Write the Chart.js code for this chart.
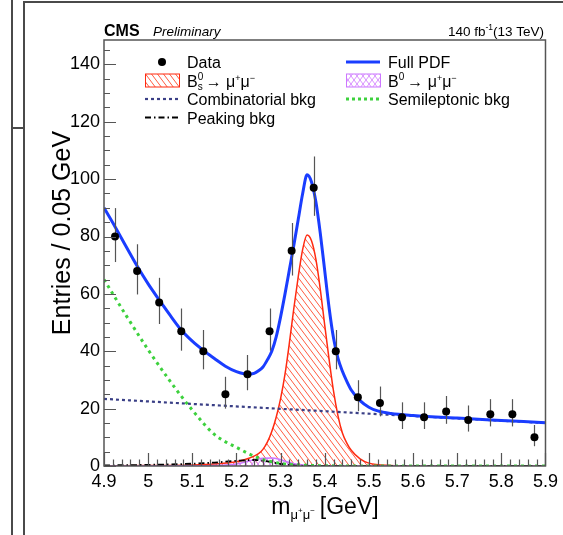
<!DOCTYPE html>
<html>
<head>
<meta charset="utf-8">
<script src="https://cdn.jsdelivr.net/npm/chart.js@4.4.0/dist/chart.umd.min.js"></script>
<style>
  html, body { margin: 0; padding: 0; background: #fff; }
  #wrap { position: relative; width: 563px; height: 535px; overflow: hidden; }
  #wrap canvas { position: absolute; left: 0; top: 0; }
  .ln { position: absolute; background: #4a4a4a; }
</style>
</head>
<body>
<div id="wrap">
  <div class="ln" style="left:11px;top:0;width:2px;height:535px"></div>
  <div class="ln" style="left:23px;top:1px;width:2px;height:534px"></div>
  <div class="ln" style="left:23px;top:1px;width:540px;height:2px"></div>
  <div class="ln" style="left:11px;top:127px;width:13px;height:2px"></div>
  <canvas id="massChart" width="563" height="535"></canvas>
</div>
<script>
// data points (bin centres, 0.05 GeV bins)
const binCenters = [4.925, 4.975, 5.025, 5.075, 5.125, 5.175, 5.225, 5.275, 5.325, 5.375,
                    5.425, 5.475, 5.525, 5.575, 5.625, 5.675, 5.725, 5.775, 5.825, 5.875];
const counts  = [80, 68, 57, 47, 40, 25, 32, 47, 75, 97, 40, 24, 22, 17, 17, 19, 16, 18, 18, 10];
const errUp   = [9.9, 9.3, 8.6, 7.9, 7.4, 6.1, 6.7, 7.9, 9.7, 10.9, 7.4, 5.9, 5.7, 5.2, 5.2, 5.4, 5.1, 5.3, 5.3, 4.3];
const errDown = [8.9, 8.2, 7.5, 6.8, 6.3, 5.0, 5.6, 6.8, 8.6, 9.8, 6.3, 4.9, 4.7, 4.1, 4.1, 4.3, 4.0, 4.2, 4.2, 3.1];

// full PDF
const pdfMass = [4.9, 4.925, 4.95, 4.975, 5.0, 5.025, 5.05, 5.075, 5.1, 5.125, 5.15, 5.175, 5.2, 5.225, 5.24,
                 5.25, 5.26, 5.27, 5.28, 5.29, 5.3, 5.31, 5.32, 5.33, 5.34, 5.35, 5.36, 5.37, 5.38, 5.39,
                 5.4, 5.41, 5.42, 5.43, 5.44, 5.45, 5.46, 5.48, 5.5, 5.52, 5.55, 5.6, 5.7, 5.8, 5.9];
const pdfVal  = [90, 83.4, 76.5, 69.7, 63.5, 57.9, 52.5, 47.4, 43.5, 40.3, 37.5, 34.8, 32.9, 32.0, 32.3,
                 33.2, 34.5, 37, 40, 45, 52, 60, 68.5, 77, 86, 95, 101.5, 99, 92, 81,
                 68, 55, 44.5, 37.5, 33, 29.5, 26.5, 22.8, 20.5, 19.2, 18.3, 17.6, 16.7, 15.9, 15.1];

// Bs -> mu mu signal
const bsMass = [4.9, 5.0, 5.1, 5.15, 5.2, 5.23, 5.25, 5.26, 5.27, 5.28, 5.29, 5.3, 5.31, 5.32, 5.33, 5.34, 5.35,
                5.36, 5.37, 5.38, 5.39, 5.4, 5.41, 5.42, 5.43, 5.44, 5.45, 5.46, 5.48, 5.5, 5.55, 5.6, 5.9];
const bsVal  = [0.1, 0.15, 0.35, 0.7, 1.5, 2.8, 4.3, 5.8, 8.3, 12, 17, 23.5, 32, 43, 55, 66, 75.5,
                80.5, 78.5, 72, 61.5, 49, 37, 26, 17.5, 11.5, 8, 5.5, 2.5, 1, 0.2, 0.05, 0];

// B0 -> mu mu
const b0Mass = [4.9, 5.1, 5.15, 5.2, 5.22, 5.24, 5.26, 5.28, 5.3, 5.32, 5.34, 5.37, 5.4, 5.9];
const b0Val  = [0, 0.05, 0.15, 0.7, 1.4, 2.2, 2.7, 2.8, 2.2, 1.2, 0.5, 0.1, 0, 0];

// combinatorial background
const combMass = [4.9, 5.15, 5.4, 5.65, 5.9];
const combVal  = [23.4, 21.2, 19.1, 17.0, 15.0];

// semileptonic background
const semiMass = [4.9, 4.95, 5.0, 5.05, 5.1, 5.15, 5.2, 5.25, 5.3, 5.35, 5.4, 5.45, 5.9];
const semiVal  = [65, 52.5, 40.5, 29.5, 19.5, 11, 6.5, 2.8, 0.9, 0.3, 0.1, 0, 0];

// peaking background
const peakMass = [4.9, 5.0, 5.1, 5.15, 5.2, 5.24, 5.27, 5.3, 5.33, 5.36, 5.4, 5.9];
const peakVal  = [0.2, 0.4, 0.8, 1.2, 1.8, 2.1, 1.6, 0.7, 0.2, 0.05, 0, 0];

const FONT = '"Liberation Sans", Arial, Helvetica, sans-serif';
const RED = '#ff2a10';
const BLUE = '#1a3dff';
const VIOLET = '#cc77ff';
const GREEN = '#3dd13d';
const NAVY = '#3a3f86';

const pts = (xs, ys) => xs.map((x, i) => ({ x: x, y: ys[i] }));

function hatch(color, cross) {
    const c = document.createElement('canvas');
    c.width = 6; c.height = 8;
    const g = c.getContext('2d');
    g.strokeStyle = color;
    g.lineWidth = 1;
    g.beginPath();
    g.moveTo(-6, 0); g.lineTo(0, 8);
    g.moveTo(0, 0); g.lineTo(6, 8);
    g.moveTo(6, 0); g.lineTo(12, 8);
    if (cross) {
        g.moveTo(0, 0); g.lineTo(-6, 8);
        g.moveTo(6, 0); g.lineTo(0, 8);
        g.moveTo(12, 0); g.lineTo(6, 8);
    }
    g.stroke();
    return g.createPattern(c, 'repeat');
}
const redHatch = hatch('#ff5a40', false);
const violetHatch = hatch('#d890ff', true);

function curve(label, xs, ys, color, width, dash, fill) {
    return {
        label: label,
        data: pts(xs, ys),
        borderColor: color,
        borderWidth: width,
        borderDash: dash || [],
        backgroundColor: fill || 'transparent',
        fill: fill ? 'origin' : false,
        pointRadius: 0,
        cubicInterpolationMode: 'monotone'
    };
}

// draw a run of text pieces: {t, size, dy, bold, italic, noAdvance}
function rich(ctx, x, y, parts) {
    let cx = x;
    parts.forEach(p => {
        ctx.font = (p.italic ? 'italic ' : '') + (p.bold ? 'bold ' : '') + p.size + 'px ' + FONT;
        ctx.fillText(p.t, cx, y + (p.dy || 0));
        if (!p.noAdvance) cx += ctx.measureText(p.t).width + (p.gap || 0);
    });
    return cx;
}
function richWidth(ctx, parts) {
    let w = 0;
    parts.forEach(p => {
        ctx.font = (p.italic ? 'italic ' : '') + (p.bold ? 'bold ' : '') + p.size + 'px ' + FONT;
        if (!p.noAdvance) w += ctx.measureText(p.t).width + (p.gap || 0);
    });
    return w;
}

const errorBars = {
    id: 'errorBars',
    beforeDatasetDraw(chart, args) {
        if (args.index !== 0) return;
        const ctx = chart.ctx, xs = chart.scales.x, ys = chart.scales.y;
        ctx.save();
        ctx.strokeStyle = '#555';
        ctx.lineWidth = 1.2;
        binCenters.forEach((m, i) => {
            const px = Math.round(xs.getPixelForValue(m)) + 0.5;
            ctx.beginPath();
            ctx.moveTo(px, ys.getPixelForValue(counts[i] + errUp[i]));
            ctx.lineTo(px, ys.getPixelForValue(counts[i] - errDown[i]));
            ctx.stroke();
        });
        ctx.restore();
    }
};

const frameAndText = {
    id: 'frameAndText',
    afterDraw(chart) {
        const ctx = chart.ctx, a = chart.chartArea;
        const xs = chart.scales.x, ys = chart.scales.y;
        ctx.save();
        // frame
        ctx.strokeStyle = '#555';
        ctx.lineWidth = 1.5;
        ctx.strokeRect(a.left, a.top, a.right - a.left, a.bottom - a.top);
        // inner ticks
        ctx.lineWidth = 1.2;
        ctx.beginPath();
        for (let k = 0; k <= 50; k++) {
            const v = 4.9 + k * 0.02;
            const px = Math.round(xs.getPixelForValue(v)) + 0.5;
            const len = (k % 5 === 0) ? 13 : 6.5;
            ctx.moveTo(px, a.bottom);
            ctx.lineTo(px, a.bottom - len);
        }
        for (let v = 0; v <= 148; v += 5) {
            const py = Math.round(ys.getPixelForValue(v)) + 0.5;
            const len = (v % 20 === 0) ? 12 : 6;
            ctx.moveTo(a.left, py);
            ctx.lineTo(a.left + len, py);
        }
        ctx.stroke();

        ctx.fillStyle = '#000';
        ctx.textBaseline = 'alphabetic';
        // header
        rich(ctx, 104, 36, [{ t: 'CMS', size: 16, bold: true }]);
        rich(ctx, 153, 36, [{ t: 'Preliminary', size: 13.5, italic: true }]);
        const lumi = [
            { t: '140 fb', size: 13.5 },
            { t: '-1', size: 8.5, dy: -6 },
            { t: '(13 TeV)', size: 13.5 }
        ];
        rich(ctx, 544 - richWidth(ctx, lumi), 36, lumi);

        // axis titles
        const xt = [
            { t: 'm', size: 23 },
            { t: 'μ', size: 13, dy: 5 },
            { t: '+', size: 8, dy: -1 },
            { t: 'μ', size: 13, dy: 5 },
            { t: '−', size: 8, dy: -1, gap: 5 },
            { t: '[GeV]', size: 23 }
        ];
        rich(ctx, 325 - richWidth(ctx, xt) / 2, 514, xt);
        ctx.save();
        ctx.translate(70, 233);
        ctx.rotate(-Math.PI / 2);
        ctx.font = '25px ' + FONT;
        ctx.textAlign = 'center';
        ctx.fillText('Entries / 0.05 GeV', 0, 0);
        ctx.restore();

        // legend
        const r = [62, 80.5, 99, 117.5];
        const L0 = 145, L1 = 179, TL = 187;
        const R0 = 346, R1 = 380, TR = 388;
        const base = 6;

        ctx.beginPath();
        ctx.arc(162, r[0], 4, 0, Math.PI * 2);
        ctx.fill();

        ctx.fillStyle = redHatch;
        ctx.fillRect(L0, r[1] - 6.5, L1 - L0, 13);
        ctx.strokeStyle = RED; ctx.lineWidth = 1;
        ctx.strokeRect(L0 + 0.5, r[1] - 6.5, L1 - L0, 13);

        ctx.fillStyle = violetHatch;
        ctx.fillRect(R0, r[1] - 6.5, R1 - R0, 13);
        ctx.strokeStyle = VIOLET;
        ctx.strokeRect(R0 + 0.5, r[1] - 6.5, R1 - R0, 13);

        const seg = (x0, x1, y, color, w, dash) => {
            ctx.strokeStyle = color; ctx.lineWidth = w; ctx.setLineDash(dash);
            ctx.beginPath(); ctx.moveTo(x0, y); ctx.lineTo(x1, y); ctx.stroke();
            ctx.setLineDash([]);
        };
        seg(L0, L1, r[2], NAVY, 2.2, [3, 3]);
        seg(L0, L1, r[3], '#000', 1.8, [6, 3, 1.5, 3]);
        seg(R0, R1, r[0], BLUE, 3, []);
        seg(R0, R1, r[2], GREEN, 3, [3, 3]);

        ctx.fillStyle = '#000';
        rich(ctx, TL, r[0] + base, [{ t: 'Data', size: 16 }]);
        rich(ctx, TL, r[1] + base, [
            { t: 'B', size: 16 },
            { t: '0', size: 10, dy: -7, noAdvance: true },
            { t: 's', size: 10, dy: 3, gap: 3 },
            { t: '→ μ', size: 16 },
            { t: '+', size: 9, dy: -6 },
            { t: 'μ', size: 16 },
            { t: '−', size: 9, dy: -6 }
        ]);
        rich(ctx, TL, r[2] + base, [{ t: 'Combinatorial bkg', size: 16 }]);
        rich(ctx, TL, r[3] + base, [{ t: 'Peaking bkg', size: 16 }]);
        rich(ctx, TR, r[0] + base, [{ t: 'Full PDF', size: 16 }]);
        rich(ctx, TR, r[1] + base, [
            { t: 'B', size: 16 },
            { t: '0', size: 10, dy: -7, gap: 3 },
            { t: '→ μ', size: 16 },
            { t: '+', size: 9, dy: -6 },
            { t: 'μ', size: 16 },
            { t: '−', size: 9, dy: -6 }
        ]);
        rich(ctx, TR, r[2] + base, [{ t: 'Semileptonic bkg', size: 16 }]);
        ctx.restore();
    }
};

const ctx = document.getElementById('massChart').getContext('2d');

new Chart(ctx, {
    type: 'line',
    data: {
        datasets: [
            {
                label: 'Data',
                data: pts(binCenters, counts),
                showLine: false,
                pointRadius: 4,
                pointBackgroundColor: '#000',
                pointBorderColor: '#000',
                pointBorderWidth: 0
            },
            curve('Full PDF', pdfMass, pdfVal, BLUE, 3),
            curve('Combinatorial bkg', combMass, combVal, NAVY, 2.2, [3, 3]),
            curve('Semileptonic bkg', semiMass, semiVal, GREEN, 3, [3, 4]),
            curve('Peaking bkg', peakMass, peakVal, '#000', 1.8, [6, 3, 1.5, 3]),
            curve('B0 -> mumu', b0Mass, b0Val, VIOLET, 1.5, [], violetHatch),
            curve('Bs -> mumu', bsMass, bsVal, RED, 1.5, [], redHatch)
        ]
    },
    options: {
        responsive: false,
        animation: false,
        layout: { padding: { left: 0, right: 17, top: 40, bottom: 0 } },
        scales: {
            x: {
                type: 'linear',
                min: 4.9,
                max: 5.9,
                afterFit: s => { s.height = 69; },
                grid: { display: false, drawTicks: false },
                border: { display: false },
                ticks: {
                    stepSize: 0.1,
                    includeBounds: false,
                    autoSkip: false,
                    maxRotation: 0,
                    padding: 5,
                    color: '#000',
                    font: { family: FONT, size: 18 },
                    callback: v => String(Math.round(v * 10) / 10)
                }
            },
            y: {
                min: 0,
                max: 148.5,
                afterFit: s => { s.width = 104; },
                grid: { display: false, drawTicks: false },
                border: { display: false },
                ticks: {
                    stepSize: 20,
                    includeBounds: false,
                    padding: 4,
                    color: '#000',
                    font: { family: FONT, size: 18 }
                }
            }
        },
        plugins: {
            legend: { display: false },
            tooltip: { enabled: false }
        }
    },
    plugins: [errorBars, frameAndText]
});
</script>
</body>
</html>
